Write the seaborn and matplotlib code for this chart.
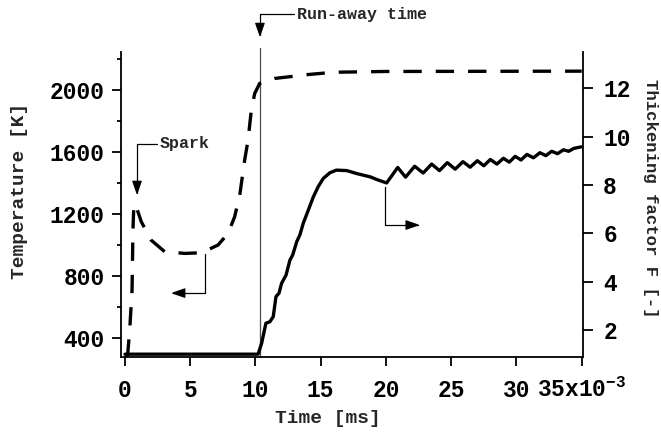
import matplotlib
matplotlib.use("Agg")
import matplotlib.pyplot as plt
import pandas as pd
import seaborn as sns

# ---------------- data ----------------
time_T = [0.0, 0.2, 0.36, 0.54, 0.61, 0.68, 0.8, 1.25, 2.0, 3.04, 4.57, 5.85,
          7.13, 7.9, 8.4, 8.79, 9.17, 9.43, 9.68, 9.94, 10.32, 11.47, 12.5,
          14.0, 16.0, 20.0, 35.0]
temperature = [290, 290, 452, 710, 1097, 1265, 1262, 1150, 1032, 957, 946, 950,
               1000, 1075, 1182, 1320, 1548, 1677, 1871, 1978, 2043, 2075, 2085,
               2100, 2115, 2120, 2122]

time_F = [0.0, 10.2, 10.47, 10.8, 11.1, 11.36, 11.57, 11.8, 12.0, 12.34, 12.64,
          12.85, 13.16, 13.4, 13.66, 14.05, 14.43, 14.8, 15.2, 15.7, 16.2, 17.0,
          17.75, 18.8, 19.4, 20.05, 20.9, 21.5, 22.2, 22.85, 23.5, 24.1, 24.7,
          25.3, 25.9, 26.45, 27.0, 27.5, 28.0, 28.5, 29.0, 29.45, 29.9, 30.35,
          30.8, 31.3, 31.8, 32.25, 32.7, 33.15, 33.6, 34.0, 34.4, 34.95]
thickening = [1.0, 1.0, 1.45, 2.28, 2.34, 2.55, 3.38, 3.52, 3.93, 4.27, 4.89,
              5.1, 5.65, 5.93, 6.41, 6.96, 7.5, 7.92, 8.27, 8.5, 8.61, 8.59,
              8.47, 8.33, 8.2, 8.08, 8.72, 8.32, 8.77, 8.49, 8.86, 8.59, 8.92,
              8.65, 8.96, 8.73, 9.0, 8.79, 9.05, 8.86, 9.1, 8.94, 9.18, 9.03,
              9.26, 9.12, 9.33, 9.21, 9.39, 9.29, 9.45, 9.39, 9.51, 9.57]

x_ticks = [0, 5, 10, 15, 20, 25, 30, 35]
x_tick_labels = ["0", "5", "10", "15", "20", "25", "30",
                 "35x10$^{\\mathregular{-3}}$"]
T_ticks = [400, 800, 1200, 1600, 2000]
F_ticks = [2, 4, 6, 8, 10, 12]

run_away_time = 10.34

# ---------------- style ----------------
sns.set_theme(style="ticks")
plt.rcParams["font.family"] = ["Liberation Mono", "DejaVu Sans"]
plt.rcParams["font.weight"] = "bold"
plt.rcParams["axes.labelweight"] = "bold"
plt.rcParams["mathtext.fontset"] = "custom"
plt.rcParams["mathtext.rm"] = "Liberation Mono:bold"

df_T = pd.DataFrame({"time": time_T, "T": temperature})
df_F = pd.DataFrame({"time": time_F, "F": thickening})

fig = plt.figure(figsize=(6.61, 4.36), dpi=100)
ax = fig.add_axes([0.183, 0.181, 0.699, 0.6995])
ax2 = ax.twinx()

sns.lineplot(data=df_T, x="time", y="T", ax=ax, color="black", lw=2.4,
             estimator=None, sort=False, linestyle=(0, (5.5, 4.2)))
sns.lineplot(data=df_F, x="time", y="F", ax=ax2, color="black", lw=2.4,
             estimator=None, sort=False, solid_joinstyle="round")

ax.set_xlim(-0.31, 35.1)
ax.set_ylim(277, 2245)
ax2.set_ylim(0.88, 13.49)

# spines
for s in ["top", "right"]:
    ax.spines[s].set_visible(False)
for s in ["top", "left", "bottom"]:
    ax2.spines[s].set_visible(False)
for s in ["left", "bottom"]:
    ax.spines[s].set_linewidth(1.3)
    ax.spines[s].set_color("black")
ax2.spines["right"].set_linewidth(1.3)
ax2.spines["right"].set_color("black")

# ticks
ax.set_xticks(x_ticks)
ax.set_xticklabels(x_tick_labels)
ax.set_yticks(T_ticks)
ax.yaxis.set_minor_locator(matplotlib.ticker.MultipleLocator(200))
ax2.set_yticks(F_ticks)

ax.tick_params(axis="x", direction="out", length=6.5, width=1.3, pad=22,
               labelsize=16.5, colors="black")
ax.tick_params(axis="y", which="major", direction="out", length=6.5, width=1.3,
               pad=5, labelsize=16.5, colors="black")
ax.tick_params(axis="y", which="minor", direction="out", length=3.2, width=1.3,
               colors="black")
ax2.tick_params(axis="y", direction="out", length=7.5, width=1.3, pad=7,
                labelsize=16.5, colors="black")
for lbl in ax.get_xticklabels():
    lbl.set_verticalalignment("baseline")
    lbl.set_fontweight("bold")
for lbl in ax.get_yticklabels() + ax2.get_yticklabels():
    lbl.set_fontweight("bold")

# labels
ax.set_xlabel("Time [ms]", fontsize=14, fontweight="bold", va="center")
ax.xaxis.set_label_coords(0.447, -0.2)
ax.set_ylabel("Temperature [K]", fontsize=14, fontweight="bold", va="center")
ax.yaxis.set_label_coords(-0.219, 0.544)
ax2.set_ylabel("Thickening factor F [-]", fontsize=12.5, fontweight="bold",
               rotation=-90, va="center")
ax2.yaxis.set_label_coords(1.146, 0.521)

# run-away vertical line
ax.axvline(run_away_time, ymin=0, ymax=1.013, color="0.3", lw=0.9,
           clip_on=False, zorder=1)

arrow_style = "-|>,head_length=0.43,head_width=0.15"

ax.annotate("Run-away time", xy=(run_away_time, 2341), xytext=(13.18, 2490),
            ha="left", va="center", fontsize=12, fontweight="bold",
            annotation_clip=False,
            arrowprops=dict(arrowstyle=arrow_style, mutation_scale=20,
                            connectionstyle="angle,angleA=0,angleB=90,rad=0",
                            relpos=(0, 0.5), shrinkA=0, shrinkB=0,
                            lw=0.9, color="black"))

ax.annotate("Spark", xy=(0.92, 1322), xytext=(2.68, 1655),
            ha="left", va="center", fontsize=12, fontweight="bold",
            arrowprops=dict(arrowstyle=arrow_style, mutation_scale=20,
                            connectionstyle="angle,angleA=0,angleB=90,rad=0",
                            relpos=(0, 0.5), shrinkA=0, shrinkB=0,
                            lw=0.9, color="black"))

ax.annotate("", xy=(3.52, 690), xytext=(6.13, 942),
            arrowprops=dict(arrowstyle=arrow_style, mutation_scale=20,
                            connectionstyle="angle,angleA=90,angleB=0,rad=0",
                            shrinkA=0, shrinkB=0, lw=0.9, color="black"))

ax2.annotate("", xy=(22.6, 6.34), xytext=(19.92, 7.91),
             arrowprops=dict(arrowstyle=arrow_style, mutation_scale=20,
                             connectionstyle="angle,angleA=90,angleB=0,rad=0",
                             shrinkA=0, shrinkB=0, lw=0.9, color="black"))

fig.savefig("out.png", dpi=100)
